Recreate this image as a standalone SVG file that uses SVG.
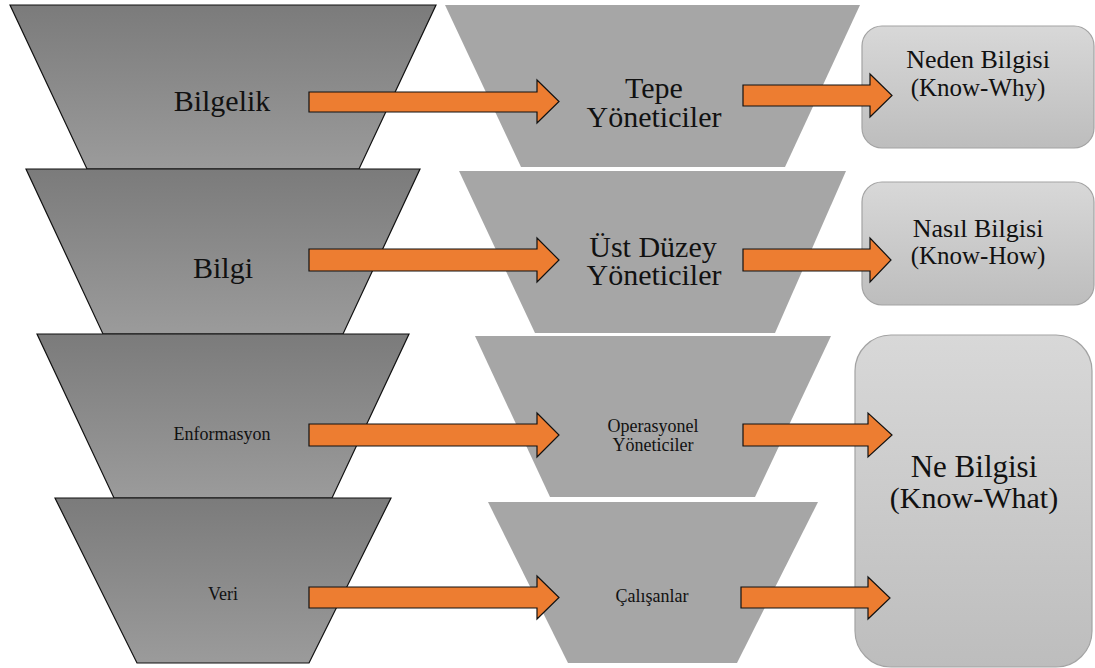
<svg xmlns="http://www.w3.org/2000/svg" width="1095" height="668" viewBox="0 0 1095 668">
  <defs>
    <linearGradient id="darkFill" x1="0" y1="0" x2="0" y2="1">
      <stop offset="0" stop-color="#7b7b7b"/>
      <stop offset="1" stop-color="#9b9b9b"/>
    </linearGradient>
    <linearGradient id="boxFill" x1="0" y1="0" x2="0" y2="1">
      <stop offset="0" stop-color="#d8d8d8"/>
      <stop offset="1" stop-color="#bdbdbd"/>
    </linearGradient>
  </defs>
  <style>
    .lvl { fill: url(#darkFill); stroke: #111; stroke-width: 1.2; }
    .role { fill: #a6a6a6; }
    .kind { fill: url(#boxFill); stroke: #a3a3a3; stroke-width: 1.2; }
    .arrow { fill: #ed7d31; stroke: #111; stroke-width: 1.2; stroke-linejoin: miter; }
    text { font-family: "Liberation Serif", "Times New Roman", serif; fill: #111; text-anchor: middle; }
    .big { font-size: 30px; }
    .small { font-size: 18px; }
  </style>

  <!-- knowledge levels: dark funnel on the left -->
  <g id="bilgelik">
    <polygon class="lvl" points="10,5 436,5 359,169 87,169"/>
    <text class="big" x="222" y="111">Bilgelik</text>
  </g>
  <g id="bilgi">
    <polygon class="lvl" points="26,169 420,169 343,334 103,334"/>
    <text class="big" x="223" y="278">Bilgi</text>
  </g>
  <g id="enformasyon">
    <polygon class="lvl" points="37,334 409,334 332,498 114,498"/>
    <text class="small" x="222" y="440">Enformasyon</text>
  </g>
  <g id="veri">
    <polygon class="lvl" points="55,498 391,498 309,663 137,663"/>
    <text class="small" x="223" y="600">Veri</text>
  </g>

  <!-- roles: light funnel in the middle -->
  <g id="tepe">
    <polygon class="role" points="445,5 860,5 785,167 521,167"/>
    <text class="big" x="654" y="98">Tepe</text>
    <text class="big" x="654" y="127">Yöneticiler</text>
  </g>
  <g id="ust-duzey">
    <polygon class="role" points="459,171 846,171 775,333 535,333"/>
    <text class="big" x="653" y="257">Üst Düzey</text>
    <text class="big" x="654" y="285">Yöneticiler</text>
  </g>
  <g id="operasyonel">
    <polygon class="role" points="475,336 831,336 755,497 550,497"/>
    <text class="small" x="653" y="432">Operasyonel</text>
    <text class="small" x="653" y="451">Yöneticiler</text>
  </g>
  <g id="calisanlar">
    <polygon class="role" points="488,502 818,502 737,663 568,663"/>
    <text class="small" x="652" y="602">Çalışanlar</text>
  </g>

  <!-- knowledge types: rounded boxes on the right -->
  <g id="know-why">
    <rect class="kind" x="862" y="26" width="232" height="122" rx="20" ry="20"/>
    <text x="978" y="68" font-size="26">Neden Bilgisi</text>
    <text x="978" y="96" font-size="25">(Know-Why)</text>
  </g>
  <g id="know-how">
    <rect class="kind" x="862" y="182" width="232" height="123" rx="20" ry="20"/>
    <text x="978" y="237" font-size="26">Nasıl Bilgisi</text>
    <text x="978" y="264" font-size="25">(Know-How)</text>
  </g>
  <g id="know-what">
    <rect class="kind" x="855" y="335" width="237" height="332" rx="36" ry="36"/>
    <text x="974" y="477" font-size="31">Ne Bilgisi</text>
    <text class="big" x="974" y="508">(Know-What)</text>
  </g>

  <!-- connectors: block arrows -->
  <g id="connectors">
    <polygon class="arrow" points="309,92 537,92 537,80 559,101.5 537,123 537,112 309,112"/>
    <polygon class="arrow" points="309,249 537,249 537,238 559,260 537,282 537,271 309,271"/>
    <polygon class="arrow" points="309,424 537,424 537,413 559,435 537,457 537,446 309,446"/>
    <polygon class="arrow" points="309,587 537,587 537,576 559,597.5 537,619 537,608 309,608"/>

    <polygon class="arrow" points="743,85 870,85 870,74 892,95.5 870,117 870,106 743,106"/>
    <polygon class="arrow" points="743,249 870,249 870,238 891,260 870,282 870,271 743,271"/>
    <polygon class="arrow" points="743,424 868,424 868,413 892,435 868,457 868,446 743,446"/>
    <polygon class="arrow" points="741,587 868,587 868,577 890,598 868,619 868,608 741,608"/>
  </g>
</svg>
